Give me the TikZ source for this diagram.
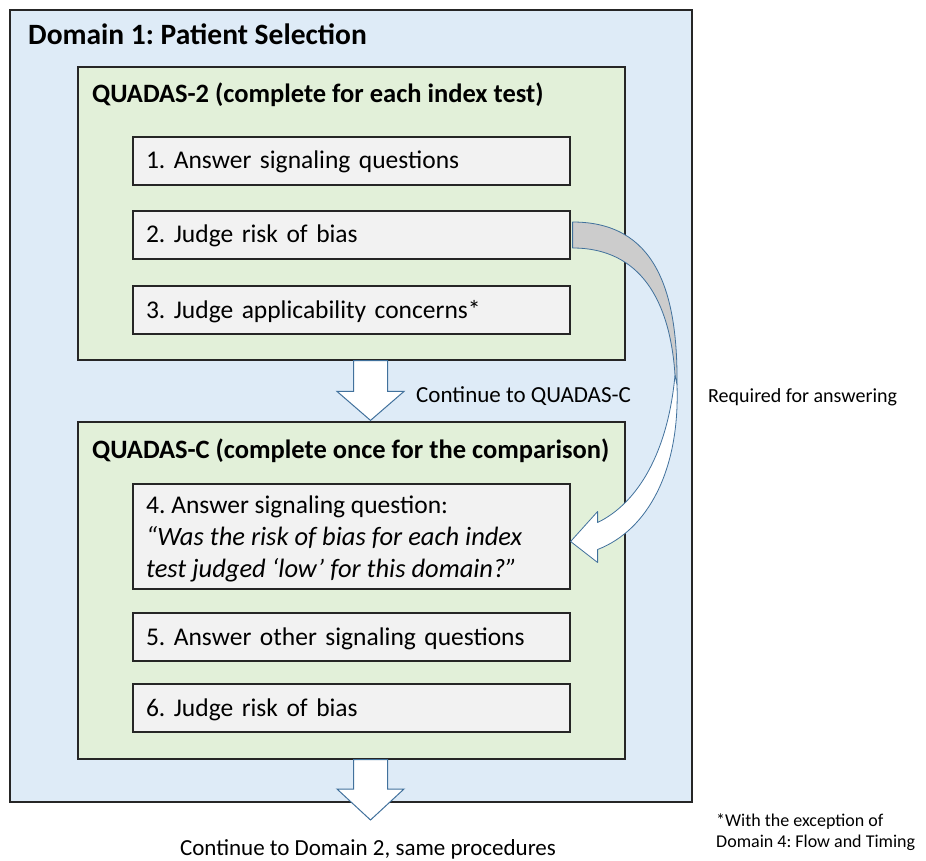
\documentclass[tikz,border=0pt]{standalone}
\usepackage{fontspec}
\setmainfont{Carlito}
\usetikzlibrary{calc}
\frenchspacing

\definecolor{domainblue}{HTML}{DEEBF7}
\definecolor{stagegreen}{HTML}{E2F0D9}
\definecolor{stepgray}{HTML}{F2F2F2}
\definecolor{arrowline}{HTML}{41719C}
\definecolor{bandgray}{HTML}{CCCCCC}

\begin{document}
\begin{tikzpicture}[x=1pt,y=-1pt,
  frame/.style={draw=black!85, line width=1.2pt, inner sep=0pt},
  stagebox/.style={frame, fill=stagegreen, minimum width=547pt},
  stepbox/.style={frame, fill=stepgray, minimum width=437pt, minimum height=48pt,
    text width=411pt, inner xsep=13pt, inner ysep=0pt, align=left,
    text height=17pt, text depth=1pt, font=\fontsize{25.5}{30}\selectfont},
  heading/.style={anchor=base west, inner sep=0pt, font=\fontsize{26.5}{32}\selectfont\bfseries},
  blockarrow/.style={draw=arrowline, fill=white, line width=1pt, line join=miter},
  bandedge/.style={draw=arrowline, line width=0.8pt, line join=round}
]
\useasboundingbox (0,0) rectangle (926,861);
\fill[white] (0,0) rectangle (926,861);

% outer domain frame
\node[frame, fill=domainblue, minimum width=682pt, minimum height=792pt] (domain) at (351,406) {};
\node[anchor=base west, inner sep=0pt, font=\fontsize{29.5}{35}\selectfont\bfseries] (dtitle) at (28,45) {Domain 1: Patient Selection};

% QUADAS-2 stage
\node[stagebox, minimum height=293pt] (g1) at (351.5,213.5) {};
\node[heading] (g1title) at (92,103) {QUADAS-2 (complete for each index test)};
\node[stepbox] (b1) at (351.5,161) {1. Answer signaling questions};
\node[stepbox] (b2) at (351.5,235) {2. Judge risk of bias};
\node[stepbox] (b3) at (351.5,310) {3. Judge applicability concerns*};

% QUADAS-C stage
\node[stagebox, minimum height=337pt] (g2) at (351.5,590.5) {};
\node[heading] (g2title) at (92,458) {QUADAS-C (complete once for the comparison)};
\node[stepbox, minimum height=105pt] (b4) at (351.5,536.5) {};
\node[anchor=base west, inner sep=0pt] (b4text) at (146,513)
  {\parbox[t]{420pt}{\fontsize{25.5}{32}\selectfont
   4. Answer signaling question:\\
   \fontsize{26.5}{32}\selectfont\itshape “Was the risk of bias for each index\\
   test judged ‘low’ for this domain?”}};
\node[stepbox] (b5) at (351.5,637) {5. Answer other signaling questions};
\node[stepbox] (b6) at (351.5,708) {6. Judge risk of bias};

% block arrows between stages
\coordinate (a1s) at ($(g1.south)+(19,0)$);
\coordinate (a1e) at ($(g2.north)+(19,-1)$);
\draw[blockarrow] ($(a1s)+(-17,0)$) -- ($(a1e)+(-17,-29)$) -- ($(a1e)+(-33.5,-29)$)
  -- (a1e) -- ($(a1e)+(33.5,-29)$) -- ($(a1e)+(17,-29)$) -- ($(a1s)+(17,0)$) -- cycle;
\node[anchor=base west, inner sep=0pt, font=\fontsize{23}{28}\selectfont] (cont1) at (416,402) {Continue to QUADAS-C};

\coordinate (a2s) at ($(g2.south)+(19,0)$);
\coordinate (a2e) at (370.5,820);
\draw[blockarrow] ($(a2s)+(-17,0)$) -- ($(a2e)+(-17,-31)$) -- ($(a2e)+(-33.5,-31)$)
  -- (a2e) -- ($(a2e)+(33.5,-31)$) -- ($(a2e)+(17,-31)$) -- ($(a2s)+(17,0)$) -- cycle;
\node[anchor=base, inner sep=0pt, font=\fontsize{23}{28}\selectfont] (cont2) at (368,855) {Continue to Domain 2, same procedures};

% curved arrow from step 2 to step 4
\coordinate (c1) at ($(b2.east)+(2,-13)$);
\coordinate (c2) at ($(b2.east)+(2,13)$);
\coordinate (tip) at ($(b4.east)+(0,5)$);
\coordinate (turnout) at (677,385);
\coordinate (turnin) at (675,375);
% back side of the band
\path[bandedge, fill=bandgray] (c1) .. controls (655,222) and (678,290) .. (turnout)
  -- (turnin) .. controls (670,300) and (640,248) .. (c2) -- cycle;
% front side with head
\path[bandedge, fill=white] (turnout) .. controls (680,470) and (648,530) .. ($(tip)+(27,8)$)
  -- ($(tip)+(27,21)$) -- (tip) -- ($(tip)+(27,-30)$) -- ($(tip)+(27,-19)$)
  .. controls (638,503) and (668,452) .. (turnin) -- cycle;
\node[anchor=base west, inner sep=0pt, font=\fontsize{20}{24}\selectfont] (req) at (708,402) {Required for answering};

% footnote
\node[anchor=base west, inner sep=0pt, font=\fontsize{18}{21}\selectfont] (fn1) at (716,826) {*With the exception of};
\node[anchor=base west, inner sep=0pt, font=\fontsize{18}{21}\selectfont] (fn2) at (716,847) {Domain 4: Flow and Timing};
\end{tikzpicture}
\end{document}
